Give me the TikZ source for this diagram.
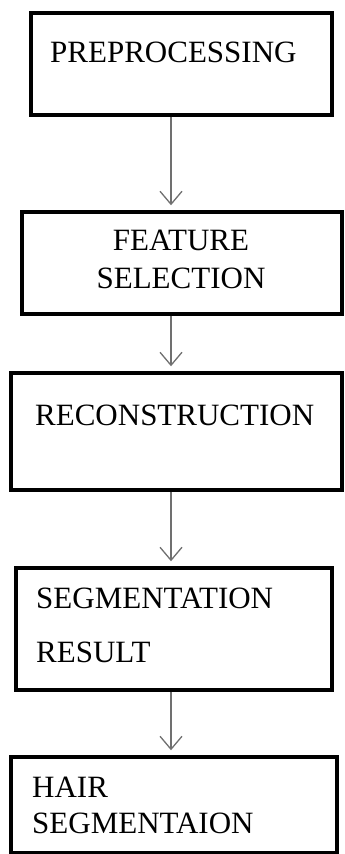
\documentclass[tikz,border=0pt]{standalone}
\usepackage{fontspec}
\setmainfont{Liberation Serif}
\usetikzlibrary{arrows.meta,positioning}
\definecolor{grayline}{HTML}{707070}

\begin{document}
\begin{tikzpicture}[x=1pt,y=-1pt,
box/.style={draw,line width=3.5pt,inner sep=0pt},
txt/.style={inner sep=0pt,anchor=base west,font=\fontsize{31}{38}\selectfont},
a/.style={draw=grayline,line width=1.3pt,shorten >=5pt,-{Straight Barb[length=13pt,width=22pt]}}]
\useasboundingbox (0,0) rectangle (345,854);
\coordinate (spine) at (171,0);
\node[box,minimum width=301pt,minimum height=102pt](b1) at (181.5,64){};
\node[box,minimum width=320pt,minimum height=102pt](b2) at (182,263){};
\node[box,minimum width=331pt,minimum height=117pt](b3) at (176.5,431.5){};
\node[box,minimum width=316pt,minimum height=122pt](b4) at (174,629){};
\node[box,minimum width=326pt,minimum height=96pt](b5) at (174,805){};
% multi-line labels sit on the baseline of their last line
\node[txt](t1) at (50,62){PREPROCESSING};
\node[txt,anchor=base,align=center](t2) at (181,288){FEATURE\\SELECTION};
\node[txt](t3) at (35,425){RECONSTRUCTION};
\node[txt,align=left](t4) at (36,662){SEGMENTATION\\[16pt]RESULT};
\node[txt,align=left](t5) at (32,833){HAIR\\[-2pt]SEGMENTAION};
\draw[a](b1.south -| spine)--(b2.north -| spine);\draw[a](b2.south -| spine)--(b3.north -| spine);
\draw[a](b3.south -| spine)--(b4.north -| spine);\draw[a](b4.south -| spine)--(b5.north -| spine);
\end{tikzpicture}
\end{document}
